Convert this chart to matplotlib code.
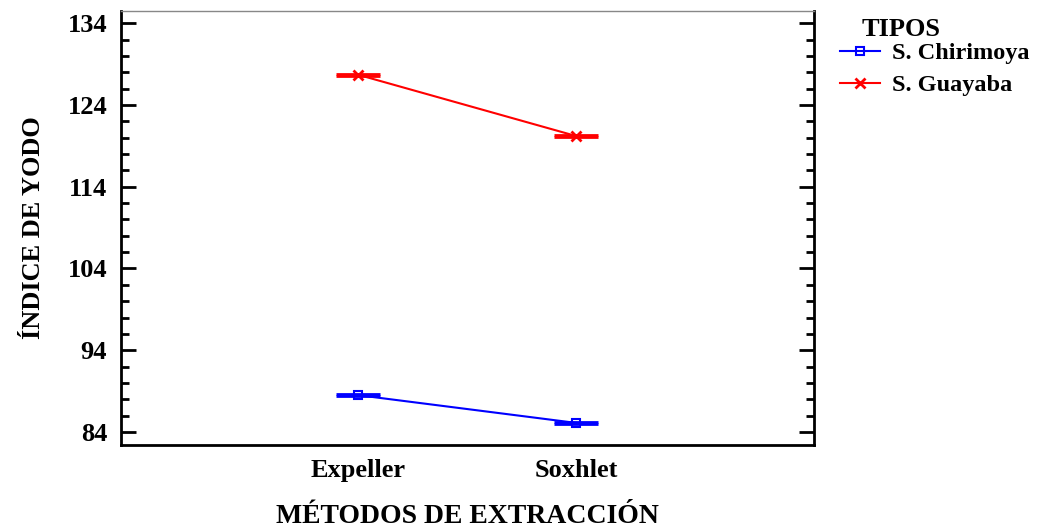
import matplotlib.pyplot as plt
from matplotlib.ticker import MultipleLocator
from matplotlib.lines import Line2D

plt.rcParams['font.family'] = ['Liberation Serif', 'DejaVu Serif']
plt.rcParams['font.weight'] = 'bold'

metodos = ['Expeller', 'Soxhlet']
chirimoya = [88.5, 85.1]
guayaba = [127.7, 120.2]
chirimoya_err = [0.12, 0.12]
guayaba_err = [0.12, 0.12]

x = [1, 2]
azul = '#0000ff'
rojo = '#ff0000'

fig = plt.figure(figsize=(10.59, 5.27), dpi=100)
ax = fig.add_axes([0.1143, 0.1556, 0.6543, 0.8235])

# intervalos (barras horizontales cortas)
ax.errorbar(x, chirimoya, yerr=chirimoya_err, fmt='none', ecolor=azul,
            capsize=16, capthick=2, elinewidth=0)
ax.errorbar(x, guayaba, yerr=guayaba_err, fmt='none', ecolor=rojo,
            capsize=16, capthick=2, elinewidth=0)

ax.plot(x, chirimoya, color=azul, lw=1.5, marker='s', ms=6, mfc='none',
        mec=azul, mew=1.5)
ax.plot(x, guayaba, color=rojo, lw=1.5, marker='x', ms=7, mew=2)

ax.set_xlim(-0.087, 3.09)
ax.set_ylim(82.4, 135.5)
ax.set_xticks(x)
ax.set_xticklabels(metodos)
ax.set_yticks([84, 94, 104, 114, 124, 134])
ax.yaxis.set_minor_locator(MultipleLocator(2))

ax.tick_params(axis='x', length=0, pad=10, labelsize=19)
ax.tick_params(axis='y', which='major', direction='in', length=11, width=2,
               right=True, labelsize=19, pad=10)
ax.tick_params(axis='y', which='minor', direction='in', length=6, width=2,
               right=True)

for side in ['left', 'bottom', 'right']:
    ax.spines[side].set_linewidth(2)
ax.spines['top'].set_linewidth(1)
ax.spines['top'].set_color('#888888')

ax.set_xlabel('MÉTODOS DE EXTRACCIÓN', fontsize=20, fontweight='bold', labelpad=16)
ax.set_ylabel('ÍNDICE DE YODO', fontsize=19, fontweight='bold', labelpad=16)

handles = [
    Line2D([], [], color=azul, lw=1.5, marker='s', ms=6, mfc='none', mec=azul, mew=1.5),
    Line2D([], [], color=rojo, lw=1.5, marker='x', ms=7, mew=2),
]
fig.legend(handles, ['S. Chirimoya', 'S. Guayaba'], loc='upper left',
           bbox_to_anchor=(840 / 1059, 1 - 42 / 527), frameon=False, fontsize=17.5,
           handlelength=1.65, handletextpad=0.5, labelspacing=0.42,
           borderaxespad=0, borderpad=0)
fig.text(862 / 1059, 1 - 29 / 527, 'TIPOS', fontsize=19, fontweight='bold',
         ha='left', va='center')

fig.savefig('out.png', dpi=100)
